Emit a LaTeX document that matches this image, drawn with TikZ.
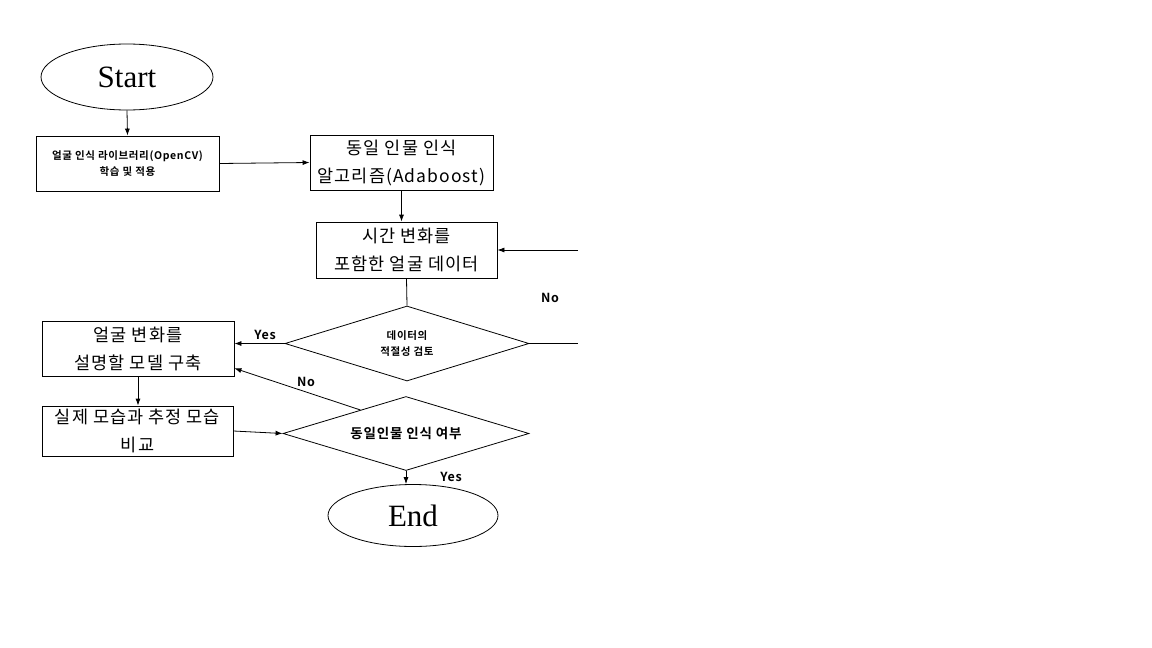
\documentclass[tikz,border=0pt]{standalone}
\usepackage{fontspec}
\setmainfont{Liberation Serif}
\newfontfamily\kr{Noto Sans CJK KR}[BoldFont={Noto Sans CJK KR Bold},LetterSpace=6]
\usetikzlibrary{shapes.geometric,arrows.meta,calc}
\begin{document}
\begin{tikzpicture}[x=1pt,y=-1pt,
  every node/.style={inner sep=0pt},
  conn/.style={line width=0.8pt,draw=black},
  arr/.style={conn,-{Latex[length=7pt,width=5pt]}},
  term/.style={ellipse,draw,line width=0.8pt,font=\fontsize{31}{34}\selectfont},
  procbox/.style={rectangle,draw,line width=0.8pt,align=center},
  bigtxt/.style={font=\kr\fontsize{17.5}{28}\selectfont},
  smalltxt/.style={font=\kr\bfseries\fontsize{10.5}{15.5}\selectfont},
  dec/.style={diamond,draw,line width=0.8pt,aspect=3.3,align=center},
  lbl/.style={font=\kr\bfseries\fontsize{12.5}{14}\selectfont}
]
\fill[white] (0,0) rectangle (1152,648);
\useasboundingbox (0,0) rectangle (1152,648);

\node[term,minimum width=172pt,minimum height=66pt] (start) at (127,77) {Start};
\node[procbox,smalltxt,minimum width=183pt,minimum height=55pt] (b1) at (127.5,163.5) {얼굴 인식 라이브러리(OpenCV)\\학습 및 적용};
\node[procbox,bigtxt,minimum width=183pt,minimum height=55pt] (b2) at (401.5,162.5) {동일 인물 인식\\알고리즘(Adaboost)};
\node[procbox,bigtxt,minimum width=181pt,minimum height=56pt] (b3) at (406.5,250) {시간 변화를\\포함한 얼굴 데이터};
\node[dec,smalltxt,minimum width=244pt,minimum height=75pt] (d1) at (407,343.5) {데이터의\\적절성 검토};
\node[procbox,bigtxt,minimum width=192pt,minimum height=55pt] (b4) at (138,348.5) {얼굴 변화를\\설명할 모델 구축};
\node[procbox,bigtxt,minimum width=191pt,minimum height=50pt] (b5) at (137.5,431) {실제 모습과 추정 모습\\비교};
\node[dec,font=\kr\bfseries\fontsize{13.5}{15}\selectfont,minimum width=246pt,minimum height=74pt] (d2) at (406,433.5) {동일인물 인식 여부};
\node[term,minimum width=170pt,minimum height=62pt] (end) at (413,515.5) {End};

\coordinate (rin) at (578,250);
\coordinate (rout) at (578,343.5);
\coordinate (nostart) at ($(d2.west)!0.63!(d2.north)$);
\coordinate (noend) at ($(b4.south east)!0.145!(b4.north east)$);

\draw[arr] (start.south) -- (b1.north);
\draw[arr] (b1.east) -- (b2.west);
\draw[arr] (b2.south) -- (b2.south |- b3.north);
\draw[arr] (rin) -- (b3.east);
\draw[conn] (b3.south) -- (d1.north);
\draw[conn] (d1.east) -- (rout);
\draw[arr] (d1.west) -- (d1.west -| b4.east);
\draw[arr] (b4.south) -- (b4.south |- b5.north);
\draw[arr] (b5.east) -- (d2.west);
\draw[arr] (nostart) -- (noend);
\draw[arr] (d2.south) -- (d2.south |- end.north);

\node[lbl] (lno1) at (550,298) {No};
\node[lbl] (lyes1) at (265,335) {Yes};
\node[lbl] (lno2) at (306,382) {No};
\node[lbl] (lyes2) at (451,477) {Yes};
\end{tikzpicture}
\end{document}
